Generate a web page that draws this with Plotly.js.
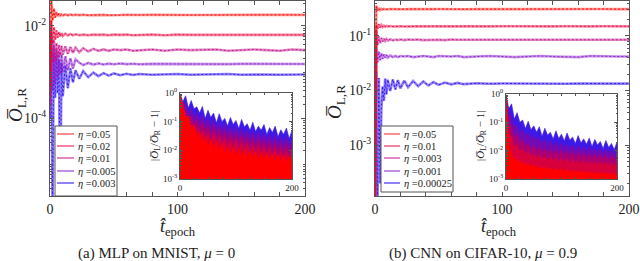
<!DOCTYPE html>
<html><head><meta charset="utf-8">
<script src="https://cdn.plot.ly/plotly-3.0.1.min.js"></script>
<style>html,body{margin:0;padding:0;background:#fff}#chart{width:640px;height:261px}</style>
</head><body><div id="chart"></div>
<script>
// ---------- data ----------
const epochs = [0,1,2,3,4,5,6,7,8,9,10,12,14,16,18,20,23,26,30,34,38,42,46,50,55,60,65,70,80,90,100,110,120,130,140,150,160,170,180,190,200];
const etaA = ['0.05','0.02','0.01','0.005','0.003'];
const etaB = ['0.05','0.01','0.003','0.001','0.00025'];
const mainXTicks = [0,100,200];
const insetXTicks = [0,200];

// (a) MLP on MNIST: O_L,R vs epoch
const mainA_005 = [0.0005,0.04,0.013,0.024,0.015,0.020,0.0162,0.0185,0.0167,0.0179,0.0169,0.0177,0.0170,0.0176,0.0171,0.0175,0.0172,0.0175,0.0171,0.0174,0.0172,0.0174,0.0171,0.0174,0.0172,0.0174,0.0172,0.0173,0.0174,0.0172,0.0174,0.0172,0.0173,0.0174,0.0172,0.0173,0.0174,0.0172,0.0173,0.0174,0.0173];
const mainA_002 = [0.0003,0.013,0.0042,0.0095,0.0050,0.0080,0.0056,0.0074,0.0059,0.0070,0.0061,0.0068,0.0062,0.0067,0.0063,0.0066,0.0063,0.0065,0.0063,0.0065,0.0064,0.0065,0.0063,0.0065,0.0064,0.0065,0.0063,0.0064,0.0065,0.0063,0.0065,0.0064,0.0064,0.0065,0.0063,0.0064,0.0065,0.0064,0.0063,0.0065,0.0064];
const mainA_001 = [0.0002,0.0075,0.0016,0.0050,0.0017,0.0043,0.0020,0.0039,0.0023,0.0037,0.0024,0.0036,0.0025,0.0035,0.0026,0.0034,0.0027,0.0033,0.0028,0.0032,0.0029,0.0031,0.0029,0.0031,0.0030,0.0031,0.0029,0.0030,0.0031,0.0029,0.0031,0.0030,0.0030,0.0031,0.0029,0.0030,0.0031,0.0030,0.0029,0.0031,0.0030];
const mainA_0005 = [0.0001,0.0046,0.00040,0.0036,0.00055,0.0031,0.00075,0.0027,0.00090,0.0024,0.0010,0.0022,0.0011,0.0020,0.0012,0.0019,0.0016,0.00142,0.00158,0.00146,0.00155,0.00147,0.00153,0.00148,0.00154,0.00149,0.00152,0.00148,0.00151,0.0015,0.00152,0.00149,0.00151,0.0015,0.00149,0.00151,0.0015,0.00149,0.00151,0.0015,0.0015];
const mainA_0003 = [0.0001,0.0032,0.000001,0.0026,0.00028,0.0021,0.00035,0.0018,0.000001,0.0016,0.00030,0.0014,0.00045,0.0012,0.00060,0.0011,0.00072,0.00105,0.00078,0.00098,0.00082,0.00095,0.00084,0.00094,0.00086,0.00092,0.00087,0.00091,0.00088,0.0009,0.00091,0.00088,0.0009,0.00089,0.00091,0.00088,0.0009,0.00089,0.00088,0.0009,0.00089];

// (b) CNN on CIFAR-10
const mainB_005 = [0.00005,0.36,0.29,0.325,0.30,0.315,0.305,0.312,0.307,0.311,0.308,0.311,0.309,0.311,0.309,0.31,0.309,0.311,0.309,0.31,0.311,0.309,0.31,0.311,0.309,0.31,0.311,0.309,0.31,0.311,0.309,0.31,0.311,0.309,0.31,0.311,0.309,0.31,0.311,0.31,0.31];
const mainB_001 = [0.00005,0.16,0.135,0.165,0.142,0.158,0.146,0.154,0.148,0.153,0.149,0.152,0.149,0.151,0.15,0.151,0.149,0.151,0.15,0.151,0.149,0.15,0.151,0.15,0.149,0.151,0.15,0.151,0.149,0.15,0.151,0.15,0.149,0.151,0.15,0.151,0.149,0.15,0.151,0.15,0.15];
const mainB_0003 = [0.00005,0.125,0.068,0.098,0.074,0.092,0.079,0.089,0.081,0.088,0.082,0.087,0.083,0.086,0.084,0.086,0.084,0.086,0.085,0.086,0.084,0.085,0.086,0.085,0.084,0.086,0.085,0.085,0.086,0.084,0.085,0.086,0.085,0.084,0.086,0.085,0.085,0.086,0.084,0.085,0.085];
const mainB_0001 = [0.00005,0.058,0.033,0.052,0.036,0.048,0.038,0.046,0.040,0.045,0.040,0.044,0.041,0.043,0.041,0.043,0.042,0.043,0.041,0.042,0.043,0.042,0.041,0.043,0.042,0.042,0.043,0.041,0.042,0.043,0.042,0.041,0.042,0.043,0.042,0.042,0.041,0.043,0.042,0.042,0.042];
const mainB_000025 = [0.00005,0.022,0.00008,0.017,0.0002,0.0045,0.012,0.0065,0.0165,0.0085,0.0158,0.0098,0.016,0.0105,0.0155,0.011,0.0152,0.0115,0.015,0.012,0.0147,0.0124,0.0143,0.0127,0.0140,0.0130,0.0138,0.0131,0.0136,0.0133,0.0135,0.0134,0.0133,0.0135,0.0134,0.0133,0.0135,0.0134,0.0133,0.0135,0.0134];

// insets: |O_L/O_R - 1| vs epoch
const insetEpochs = [0,5,10,15,20,25,30,35,40,45,50,55,60,65,70,75,80,85,90,95,100,105,110,115,120,125,130,135,140,145,150,155,160,165,170,175,180,185,190,195,200];
const insA_005 = [0.9,0.45,0.14,0.16,0.055,0.08,0.028,0.045,0.018,0.03,0.014,0.024,0.011,0.02,0.0095,0.016,0.008,0.014,0.0072,0.012,0.0065,0.011,0.006,0.0105,0.0056,0.0095,0.0052,0.009,0.0049,0.0085,0.0046,0.008,0.0044,0.0075,0.0042,0.007,0.004,0.0068,0.0038,0.0064,0.0037];
const insA_002 = [0.8,0.08,0.12,0.05,0.08,0.04,0.06,0.032,0.05,0.026,0.04,0.021,0.036,0.018,0.03,0.016,0.026,0.014,0.023,0.012,0.021,0.011,0.019,0.01,0.017,0.0092,0.015,0.0085,0.014,0.0078,0.013,0.007,0.012,0.0063,0.011,0.0058,0.01,0.0054,0.0095,0.0049,0.0085];
const insA_001 = [0.85,0.17,0.24,0.11,0.16,0.08,0.12,0.06,0.095,0.048,0.074,0.038,0.066,0.032,0.054,0.028,0.046,0.024,0.04,0.022,0.037,0.02,0.034,0.018,0.03,0.016,0.026,0.015,0.025,0.014,0.023,0.0125,0.021,0.011,0.02,0.0102,0.018,0.0096,0.017,0.0086,0.015];
const insA_0005 = [0.9,0.33,0.45,0.2,0.3,0.14,0.21,0.105,0.17,0.085,0.13,0.067,0.115,0.056,0.095,0.049,0.082,0.043,0.07,0.038,0.066,0.035,0.059,0.031,0.053,0.029,0.046,0.027,0.044,0.024,0.04,0.022,0.037,0.02,0.036,0.018,0.031,0.017,0.03,0.015,0.026];
const insA_0003 = [0.95,0.5,0.8,0.3,0.55,0.28,0.33,0.2,0.34,0.13,0.25,0.14,0.2,0.09,0.19,0.1,0.13,0.07,0.14,0.08,0.11,0.058,0.12,0.065,0.085,0.05,0.095,0.045,0.07,0.05,0.08,0.036,0.062,0.042,0.07,0.03,0.052,0.036,0.06,0.026,0.05];

const insB_005 = [0.7,0.016,0.0085,0.0045,0.0055,0.0035,0.0042,0.003,0.0036,0.0027,0.0032,0.0024,0.0029,0.0022,0.0027,0.0021,0.0025,0.002,0.0024,0.0019,0.0023,0.0018,0.0022,0.0017,0.0021,0.0017,0.002,0.0016,0.0019,0.0016,0.0019,0.0015,0.0018,0.0015,0.0017,0.0014,0.0017,0.0014,0.0016,0.0014,0.0016];
const insB_001 = [0.8,0.05,0.03,0.014,0.017,0.0095,0.012,0.0075,0.0095,0.0062,0.008,0.0054,0.0072,0.005,0.0066,0.0046,0.0062,0.0043,0.0058,0.0041,0.0055,0.0039,0.0052,0.0037,0.005,0.0035,0.0048,0.0034,0.0046,0.0033,0.0044,0.0032,0.0043,0.0031,0.0042,0.003,0.004,0.0029,0.0039,0.0028,0.0038];
const insB_0003 = [0.85,0.09,0.07,0.03,0.038,0.019,0.025,0.014,0.019,0.011,0.016,0.0095,0.014,0.0088,0.0125,0.0082,0.0115,0.0076,0.011,0.0072,0.0105,0.0068,0.0098,0.0064,0.0093,0.0061,0.0088,0.0058,0.0084,0.0056,0.008,0.0054,0.0077,0.0052,0.0074,0.005,0.0071,0.0048,0.0068,0.0046,0.0066];
const insB_0001 = [0.9,0.2,0.15,0.07,0.08,0.042,0.055,0.032,0.042,0.025,0.035,0.021,0.03,0.018,0.026,0.016,0.023,0.014,0.021,0.013,0.019,0.012,0.017,0.011,0.016,0.0105,0.015,0.0098,0.014,0.0092,0.0135,0.0088,0.0128,0.0084,0.012,0.008,0.0115,0.0076,0.011,0.0072,0.0105];
const insB_000025 = [0.95,0.3,0.45,0.13,0.22,0.1,0.12,0.06,0.11,0.055,0.075,0.045,0.07,0.032,0.062,0.035,0.045,0.026,0.05,0.027,0.038,0.022,0.042,0.024,0.03,0.018,0.034,0.019,0.026,0.017,0.028,0.014,0.025,0.016,0.021,0.012,0.023,0.013,0.018,0.011,0.02];

// ---------- styling ----------
const dark = ['rgb(255,0,0)','rgb(235,10,70)','rgb(195,20,140)','rgb(140,30,205)','rgb(55,25,240)'];
const light = ['rgba(255,0,0,0.45)','rgba(235,10,70,0.5)','rgba(195,20,140,0.5)','rgba(140,30,205,0.5)','rgba(55,25,240,0.55)'];
const fillCols = ['rgb(255,0,0)','rgb(215,0,60)','rgb(170,0,115)','rgb(115,10,180)','rgb(60,25,230)'];
const FONT = '"Liberation Serif", "Times New Roman", Times, serif';
const W = 640, H = 261;
const px = v => v / W, py = v => 1 - v / H;

const mainA = [mainA_005, mainA_002, mainA_001, mainA_0005, mainA_0003];
const mainB = [mainB_005, mainB_001, mainB_0003, mainB_0001, mainB_000025];
const insA = [insA_005, insA_002, insA_001, insA_0005, insA_0003];
const insB = [insB_005, insB_001, insB_0003, insB_0001, insB_000025];

const traces = [];
function addMain(series, xa, ya) {
  for (let i = series.length - 1; i >= 0; i--) {
    traces.push({x: epochs, y: series[i], xaxis: xa, yaxis: ya, mode: 'lines', showlegend: false,
      line: {color: light[i], width: 2.6}, hoverinfo: 'skip'});
    traces.push({x: epochs, y: series[i], xaxis: xa, yaxis: ya, mode: 'lines', showlegend: false,
      line: {color: dark[i], width: 1, dash: '2px,2px'}, hoverinfo: 'skip'});
  }
}
function addInset(series, xa, ya) {
  for (let i = series.length - 1; i >= 0; i--) {
    traces.push({x: insetEpochs, y: series[i], xaxis: xa, yaxis: ya, mode: 'lines', fill: 'tozeroy',
      fillcolor: fillCols[i], showlegend: false, line: {color: fillCols[i], width: 0.6}, hoverinfo: 'skip'});
  }
}
addMain(mainA, 'x', 'y');
addMain(mainB, 'x2', 'y2');
addInset(insA, 'x3', 'y3');
addInset(insB, 'x4', 'y4');

// tick positions (not data)
function minorLog(lo, hi, skip) {
  const out = [];
  for (let d = lo; d < hi; d++) {
    if (!skip.includes(d)) out.push(Math.pow(10, d));
    for (let k = 2; k <= 9; k++) out.push(k * Math.pow(10, d));
  }
  return out;
}
const linTicks = (step, skip) => { const o = []; for (let v = 0; v <= 200; v += step) if (!skip.includes(v)) o.push(v); return o; };
const sup = e => '10<sup>' + e + '</sup>';

const axBase = {showline: true, linecolor: '#555', linewidth: 1, mirror: 'ticks', ticks: 'inside',
  tickcolor: '#555', showgrid: false, zeroline: false, fixedrange: true};
const mainX = (dom, anchor) => Object.assign({}, axBase, {domain: dom, anchor: anchor, range: [0, 200],
  tickmode: 'array', tickvals: mainXTicks, ticktext: mainXTicks.map(String), ticklen: 4,
  minor: {tickmode: 'array', tickvals: linTicks(20, mainXTicks), ticks: 'inside', ticklen: 4, tickcolor: '#555'},
  tickfont: {family: FONT, size: 14, color: '#222'}});
const insX = (dom, anchor) => Object.assign({}, axBase, {domain: dom, anchor: anchor, range: [0, 200],
  tickmode: 'array', tickvals: insetXTicks, ticktext: insetXTicks.map(String), ticklen: 2,
  minor: {tickmode: 'array', tickvals: linTicks(25, insetXTicks), ticks: 'inside', ticklen: 2, tickcolor: '#555'},
  tickfont: {family: FONT, size: 9, color: '#222'}});
const insY = (dom, anchor) => Object.assign({}, axBase, {domain: dom, anchor: anchor, type: 'log', range: [-3, 0],
  tickmode: 'array', tickvals: [0.001, 0.01, 0.1, 1], ticktext: [sup(-3), sup(-2), sup(-1), sup(0)], ticklen: 3,
  minor: {tickmode: 'array', tickvals: minorLog(-3, 0, [-3, -2, -1]), ticks: 'inside', ticklen: 1.5, tickcolor: '#555'},
  tickfont: {family: FONT, size: 9, color: '#222'}});

const layout = {
  width: W, height: H, margin: {l: 0, r: 0, t: 0, b: 0},
  paper_bgcolor: '#fff', plot_bgcolor: '#fff', showlegend: false,
  font: {family: FONT, color: '#222'},
  xaxis: mainX([px(50), px(305)], 'y'),
  yaxis: Object.assign({}, axBase, {domain: [py(196), py(1)], anchor: 'x', type: 'log', range: [-5.68, -1.46],
    tickmode: 'array', tickvals: [1e-4, 1e-2], ticktext: [sup(-4), sup(-2)], ticklen: 4,
    minor: {tickmode: 'array', tickvals: minorLog(-6, -1, [-4, -2]), ticks: 'inside', ticklen: 2, tickcolor: '#555'},
    tickfont: {family: FONT, size: 14, color: '#222'}}),
  xaxis2: mainX([px(375), px(629)], 'y2'),
  yaxis2: Object.assign({}, axBase, {domain: [py(196), py(1)], anchor: 'x2', type: 'log', range: [-3.93, -0.36],
    tickmode: 'array', tickvals: [1e-3, 1e-2, 1e-1], ticktext: [sup(-3), sup(-2), sup(-1)], ticklen: 4,
    minor: {tickmode: 'array', tickvals: minorLog(-4, 0, [-3, -2, -1]), ticks: 'inside', ticklen: 2, tickcolor: '#555'},
    tickfont: {family: FONT, size: 14, color: '#222'}}),
  xaxis3: insX([px(180), px(292)], 'y3'),
  yaxis3: insY([py(179), py(93)], 'x3'),
  xaxis4: insX([px(506), px(617)], 'y4'),
  yaxis4: insY([py(179), py(94)], 'x4'),
  annotations: [], shapes: []
};

const ann = (text, x, y, size, opts) => layout.annotations.push(Object.assign({
  text: text, x: px(x), y: py(y), xref: 'paper', yref: 'paper', showarrow: false,
  xanchor: 'center', yanchor: 'middle', font: {family: FONT, size: size, color: '#222'}}, opts || {}));

const yTitle = '<i>O\u0305</i><sub>L,R</sub>';
ann(yTitle, 17, 105, 19, {textangle: -90});
ann(yTitle, 336, 102, 19, {textangle: -90});
const xTitle = '<i>t\u0302</i><sub>epoch</sub>';
ann(xTitle, 178, 227, 18);
ann(xTitle, 499, 227, 18);
ann('(a) MLP on MNIST, <i>μ</i> = 0', 156, 253, 15);
ann('(b) CNN on CIFAR-10, <i>μ</i> = 0.9', 483, 253, 15);
const insTitle = '|<i>O\u0305</i><sub>L</sub>/<i>O\u0305</i><sub>R</sub> \u2212 1|';
ann(insTitle, 155, 136, 11, {textangle: -90});
ann(insTitle, 481, 136, 11, {textangle: -90});

// legends
function legend(labels, box, lineX0, lineX1, textX) {
  layout.shapes.push({type: 'rect', xref: 'paper', yref: 'paper', x0: px(box[0]), x1: px(box[1]),
    y0: py(box[3]), y1: py(box[2]), fillcolor: '#fff', line: {color: '#555', width: 1}, layer: 'above'});
  const rows = [134, 146, 158, 171, 183];
  labels.forEach((lab, i) => {
    layout.shapes.push({type: 'line', xref: 'paper', yref: 'paper', x0: px(lineX0), x1: px(lineX1),
      y0: py(rows[i]), y1: py(rows[i]), line: {color: light[i], width: 2}, layer: 'above'});
    ann('<i>η</i> =' + lab, textX, rows[i], 10.5, {xanchor: 'left'});
  });
}
legend(etaA, [55, 117, 126, 196], 57, 74, 76);
legend(etaB, [381, 453, 126, 192], 384, 400, 402);

Plotly.newPlot('chart', traces, layout, {staticPlot: true, displayModeBar: false});
</script></body></html>
